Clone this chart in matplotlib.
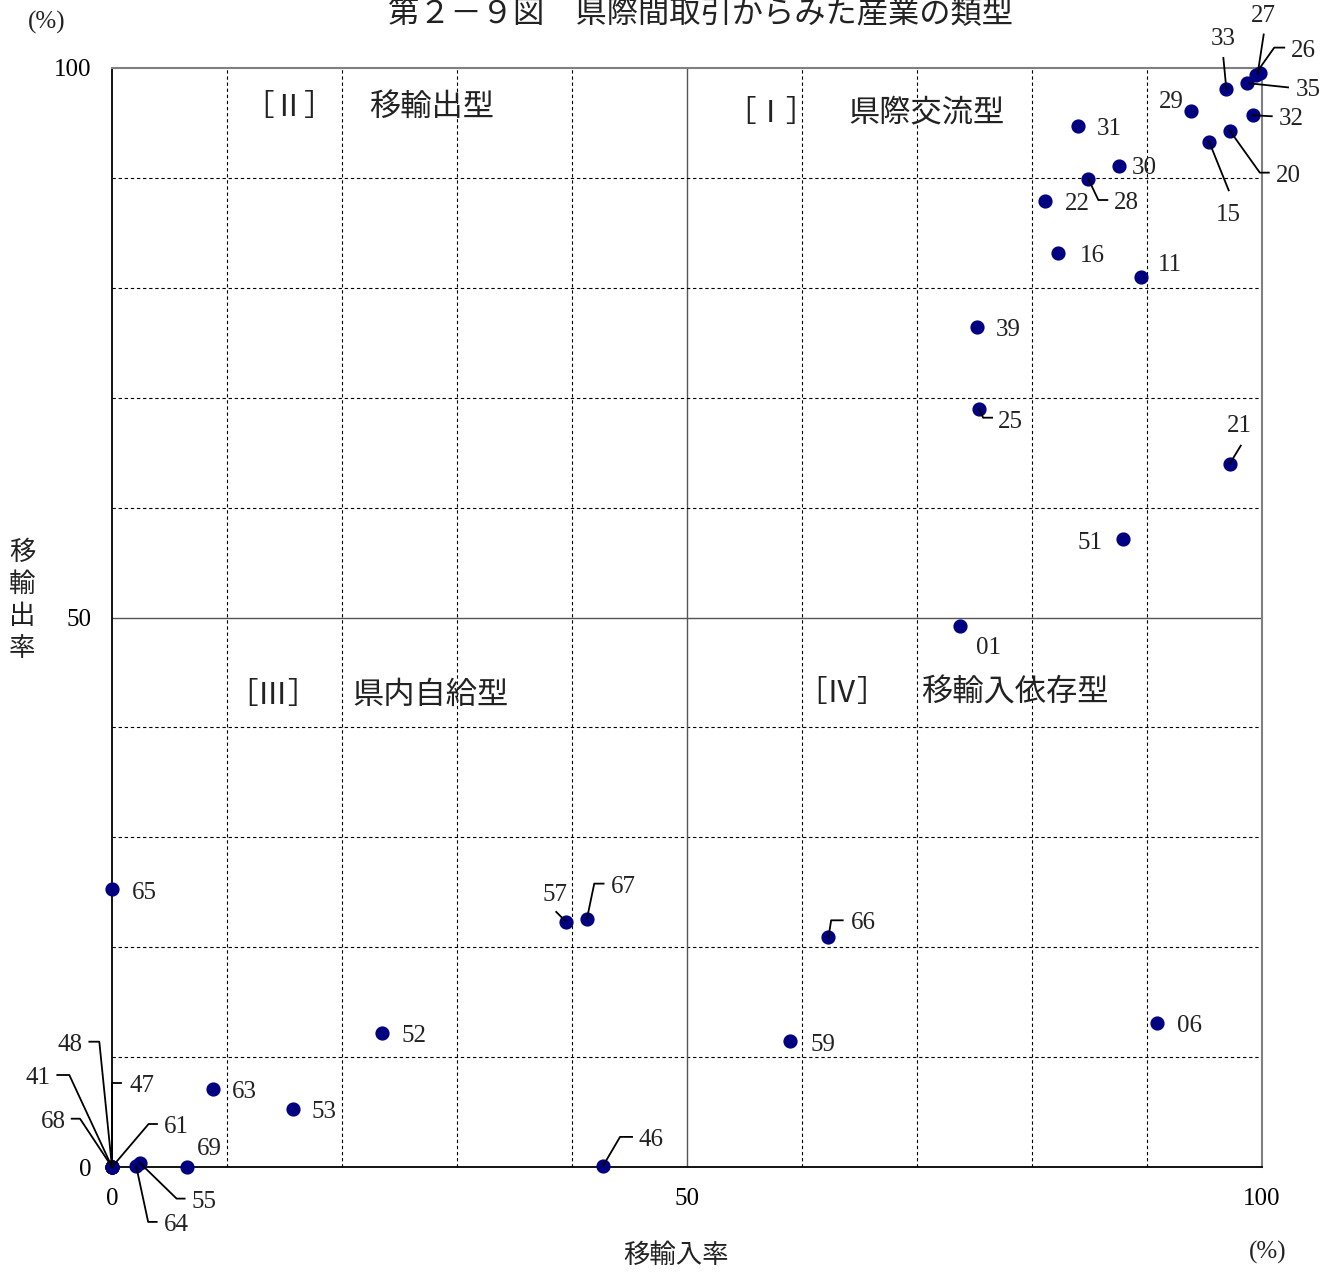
import matplotlib
matplotlib.use("Agg")
import matplotlib.pyplot as plt
from matplotlib.lines import Line2D
from matplotlib.transforms import IdentityTransform

plt.rcParams['font.family'] = ['Liberation Serif', 'Noto Sans CJK JP']

W, H = 1338, 1273

codes = ["01", "06", "11", "15", "16", "20", "21", "22", "25", "26", "27", "28",
         "29", "30", "31", "32", "33", "35", "39", "41", "46", "47", "48", "51",
         "52", "53", "55", "57", "59", "61", "63", "64", "65", "66", "67", "68", "69"]
import_rate = [73.7, 90.9, 89.5, 95.4, 82.3, 97.2, 97.2, 81.1, 75.4, 99.5, 99.8, 84.9,
               93.8, 87.6, 84.0, 99.2, 96.9, 98.7, 75.2, 0.0, 42.7, 0.0, 0.0, 87.9,
               23.5, 15.7, 2.4, 39.5, 59.0, 0.0, 8.8, 2.1, 0.0, 62.3, 41.3, 0.0, 6.5]
export_rate = [49.2, 13.1, 81.0, 93.3, 83.2, 94.3, 64.0, 87.9, 69.0, 99.4, 99.5, 89.9,
               96.1, 91.1, 94.7, 95.7, 98.1, 98.6, 76.4, 0.0, 0.1, 0.0, 0.0, 57.1,
               12.2, 5.3, 0.4, 22.3, 11.5, 0.0, 7.1, 0.1, 25.3, 20.9, 22.6, 0.0, 0.0]

quadrant_marks = ["［Ⅰ］", "［Ⅱ］", "［Ⅲ］", "［Ⅳ］"]
quadrant_names = ["県際交流型", "移輸出型", "県内自給型", "移輸入依存型"]

title = "第２－９図　県際間取引からみた産業の類型"
x_label = "移輸入率"
y_label = "移輸出率"

# label placement, pixels from the dot (right, down)
label_pos = {
    "01": (16, 19, "left"), "06": (20, 0, "left"), "11": (17, -15, "left"),
    "15": (19, 70, "center"), "16": (21, 0, "left"), "20": (46, 42, "left"),
    "21": (10, -41, "center"), "22": (20, 0, "left"), "25": (19, 10, "left"),
    "26": (35, -27, "left"), "27": (4, -60, "center"), "28": (26, 21, "left"),
    "29": (-7, -12, "right"), "30": (12, -1, "left"), "31": (19, 0, "left"),
    "32": (26, 1, "left"), "33": (-3, -53, "center"), "35": (49, 4, "left"),
    "39": (19, 0, "left"), "41": (-61, -92, "right"), "46": (35, -29, "left"),
    "47": (17, -84, "left"), "48": (-30, -125, "right"), "51": (-20, 1, "right"),
    "52": (19, 0, "left"), "53": (19, 0, "left"), "55": (52, 36, "left"),
    "57": (-11, -30, "center"), "59": (20, 1, "left"), "61": (52, -43, "left"),
    "63": (19, 0, "left"), "64": (28, 56, "left"), "65": (20, 1, "left"),
    "66": (22, -17, "left"), "67": (24, -35, "left"), "68": (-46, -48, "right"),
    "69": (10, -21, "left"),
}

leaders = {
    "15": [(0, 0), (19.6, 48.7)],
    "20": [(0, 0), (30, 42), (39, 42)],
    "21": [(0, 0), (11, -18)],
    "25": [(0, 0), (4, 9), (13, 9)],
    "26": [(1, -3), (18, -27), (28, -27)],
    "27": [(-2, 0), (4, -39)],
    "28": [(0, 0), (10, 21), (19, 21)],
    "32": [(0, 0), (19, 1)],
    "33": [(0, 0), (-3, -31)],
    "35": [(3, 0), (41, 4)],
    "41": [(0, 0), (-42.7, -92), (-54.7, -92)],
    "46": [(0, 0), (17, -29), (29, -29)],
    "47": [(0, 0), (0, -84), (9, -84)],
    "48": [(0, 0), (-12.7, -125.3), (-22.7, -125.3)],
    "55": [(0, 0), (37, 36), (45, 36)],
    "57": [(-1, -1), (-10, -10)],
    "61": [(0, 0), (36.6, -43), (45, -43)],
    "64": [(0, 0), (12, 56), (20.5, 56)],
    "66": [(0, 0), (2.7, -17), (14.3, -17)],
    "67": [(0, 0), (7.3, -35), (16.6, -35)],
    "68": [(0, 0), (-32, -48.3), (-40.3, -48.3)],
}

# quadrant text anchors in data units: (mark x, name x, y)
quadrant_pos = [(53.3, 64.0, 95.8), (11.4, 22.4, 96.3), (10.0, 20.9, 42.8), (59.5, 70.4, 43.0)]


def fig_text(fig, x, y, s, **kw):
    # x, y in reference pixels (top-left origin)
    fig.text(x / W, 1 - y / H, s, **kw)


def draw_chart():
    fig = plt.figure(figsize=(W / 100, H / 100), dpi=100)
    ax = fig.add_axes([112 / W, 106 / H, 1150 / W, 1099 / H])
    ax.set_xlim(0, 100)
    ax.set_ylim(0, 100)

    for v in range(10, 100, 10):
        if v == 50:
            ax.axvline(v, color='#555555', lw=1.0, zorder=1)
            ax.axhline(v, color='#555555', lw=1.0, zorder=1)
        else:
            ax.axvline(v, color='black', lw=0.8, ls=(0, (3, 2.5)), zorder=1)
            ax.axhline(v, color='black', lw=0.8, ls=(0, (3, 2.5)), zorder=1)

    for side in ['left', 'bottom']:
        ax.spines[side].set_color('black')
        ax.spines[side].set_linewidth(1.3)
    for side in ['top', 'right']:
        ax.spines[side].set_color('#808080')
        ax.spines[side].set_linewidth(1.5)

    ax.set_xticks([0, 50, 100])
    ax.set_yticks([0, 50, 100])
    ax.tick_params(axis='x', length=0, pad=15, labelsize=18)
    ax.tick_params(axis='y', length=0, pad=15, labelsize=18)

    ax.scatter(import_rate, export_rate, s=85, color='#000080', zorder=5, clip_on=False)

    for code, x, y in zip(codes, import_rate, export_rate):
        dx, dy, ha = label_pos[code]
        ax.annotate(code, (x, y), xytext=(dx, -dy - 3), textcoords='offset pixels',
                    ha=ha, va='center', fontsize=18, color='#222222', annotation_clip=False)
        if code in leaders:
            px, py = ax.transData.transform((x, y))
            xs = [px + p[0] for p in leaders[code]]
            ys = [py - p[1] for p in leaders[code]]
            fig.add_artist(Line2D(xs, ys, transform=IdentityTransform(), color='black', lw=1.3))

    for mark, name, (mx, nx, qy) in zip(quadrant_marks, quadrant_names, quadrant_pos):
        ax.text(mx, qy, mark, ha='left', va='center', fontsize=22, color='#222222')
        ax.text(nx, qy, name, ha='left', va='center', fontsize=22.5, color='#222222')

    fig_text(fig, 700, 15, title, ha='center', va='center', fontsize=22.5, color='#222222')
    fig_text(fig, 47, 22, "(%)", ha='center', va='center', fontsize=18, color='#222222')
    fig_text(fig, 1268, 1252, "(%)", ha='center', va='center', fontsize=18, color='#222222')
    fig_text(fig, 676, 1256, x_label, ha='center', va='center', fontsize=19, color='#222222')
    for i, ch in enumerate(y_label):
        fig_text(fig, 22, 553 + i * 32, ch, ha='center', va='center', fontsize=19, color='#222222')

    fig.savefig("out.png", dpi=100)


def main():
    draw_chart()


if __name__ == "__main__":
    main()
